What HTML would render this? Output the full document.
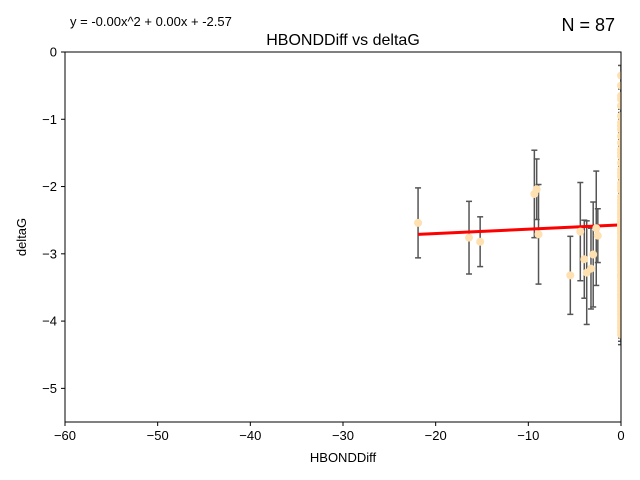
<!DOCTYPE html>
<html><head><meta charset="utf-8"><style>
body{margin:0;background:#fff;}
svg{display:block;font-family:"Liberation Sans","DejaVu Sans",sans-serif;}
</style></head><body>
<svg id="chart" width="640" height="480">
<text x="70" y="26" font-size="13">y = -0.00x^2 + 0.00x + -2.57</text>
<text x="615" y="31" font-size="18" text-anchor="end">N = 87</text>
<text x="343" y="45" font-size="16" text-anchor="middle">HBONDDiff vs deltaG</text>
<text x="343" y="462" font-size="13" text-anchor="middle">HBONDDiff</text>
<text x="26" y="237" font-size="13" text-anchor="middle" transform="rotate(-90 26 237)">deltaG</text>
<g id="plot"></g>
<rect x="65" y="52" width="556" height="370" fill="none" stroke="#000" stroke-width="1"/>
</svg>
<script>
const xs = [-21.9,-16.4,-15.2,-9.35,-9.1,-8.9,-5.47,-4.39,-3.96,-3.7,-3.24,-3.0,-2.67,-2.5,
0,0,0,0,0,0,0,0,0,0,0,0,0,0,0,0,0,0,0,0,0,0,0,0,0,0,0,0,0,0,0,0,0,0,0,0,0,0,0,0,0,0,0,0,0,0,0,0,0,0,0,0,0,0,0,0,0,0,0,0,0,0,0,0,0,0,0,0,0,0,0,0,0];
const ys = [-2.54,-2.76,-2.82,-2.11,-2.04,-2.71,-3.32,-2.67,-3.08,-3.28,-3.22,-3.01,-2.62,-2.73,
-0.35,-0.5,-0.65,-0.8,-0.95,-1.05,-1.15,-1.25,-1.35,-1.45,-1.55,-1.65,-1.75,-1.85,-1.95,-2.05,-2.15,-2.2,-2.3,-2.35,-2.4,-2.45,-2.5,-2.55,-2.6,-2.65,-2.7,-2.75,-2.8,-2.85,-2.9,-2.95,-3.0,-3.05,-3.1,-3.15,-3.2,-3.25,-3.3,-3.35,-3.4,-3.45,-3.5,-3.55,-3.6,-3.65,-3.7,-3.75,-3.8,-3.85,-3.9,-3.95,-4.0,-4.05,-4.1,-4.15,-4.2,-2.58,-2.62,-2.68,-2.52,-3.02,-1.5,-1.1,-0.7,-2.25,-3.32,-3.62,-2.0,-2.9,-3.1,-2.4,-1.8];
const errs = [0.52,0.54,0.37,0.65,0.45,0.74,0.58,0.73,0.58,0.77,0.6,0.78,0.85,0.4,
0.15,0.15,0.15,0.15,0.15,0.15,0.15,0.15,0.15,0.15,0.15,0.15,0.15,0.15,0.15,0.15,0.15,0.15,0.15,0.15,0.15,0.15,0.15,0.15,0.15,0.15,0.15,0.15,0.15,0.15,0.15,0.15,0.15,0.15,0.15,0.15,0.15,0.15,0.15,0.15,0.15,0.15,0.15,0.15,0.15,0.15,0.15,0.15,0.15,0.15,0.15,0.15,0.15,0.15,0.15,0.15,0.15,0.15,0.15,0.15,0.15,0.15,0.15,0.15,0.15,0.15,0.15,0.15,0.15,0.15,0.15,0.15,0.15];
const fitCoef = [0, 0.0064, -2.57];
const xTicks = [-60,-50,-40,-30,-20,-10,0];
const yTicks = [0,-1,-2,-3,-4,-5];
const xTickLabels = ['\u221260','\u221250','\u221240','\u221230','\u221220','\u221210','0'];
const yTickLabels = ['0','\u22121','\u22122','\u22123','\u22124','\u22125'];

const X0=65,X1=621,Y0=52,Y1=422;
const xScale = v => X0 + (v - (-60)) / 60 * (X1 - X0);
const yScale = v => Y0 + (0 - v) / 5.5 * (Y1 - Y0);
const NS='http://www.w3.org/2000/svg';
const svg=document.getElementById('chart');
const plot=document.getElementById('plot');
function mk(tag, attrs, parent){const e=document.createElementNS(NS,tag);for(const k in attrs)e.setAttribute(k,attrs[k]);(parent||plot).appendChild(e);return e;}

xTicks.forEach((t,i)=>{
  const g=mk('g',{},svg);
  
  
  mk('line',{x1:xScale(t),x2:xScale(t),y1:Y1,y2:Y1+4,stroke:'#000'},g);
  const tx=mk('text',{x:xScale(t),y:Y1+18,'font-size':13,'text-anchor':'middle'},g);
  tx.textContent=xTickLabels[i];
});
yTicks.forEach((t,i)=>{
  const g=mk('g',{},svg);
  
  
  mk('line',{x1:X0-4,x2:X0,y1:yScale(t),y2:yScale(t),stroke:'#000'},g);
  const tx=mk('text',{x:X0-8,y:yScale(t)+4.5,'font-size':13,'text-anchor':'end'},g);
  tx.textContent=yTickLabels[i];
});

const clip=mk('clipPath',{id:'clipP'},svg);
mk('rect',{x:X0,y:Y0,width:X1-X0,height:Y1-Y0},clip);
plot.setAttribute('clip-path','url(#clipP)');

for(let i=0;i<xs.length;i++){
  const px=xScale(xs[i]),t=yScale(ys[i]+errs[i]),b=yScale(ys[i]-errs[i]);
  const g=mk('g',{stroke:'#555','stroke-width':1.5});
  
  
  mk('line',{x1:px,x2:px,y1:t,y2:b},g);
  mk('line',{x1:px-3,x2:px+3,y1:t,y2:t},g);
  mk('line',{x1:px-3,x2:px+3,y1:b,y2:b},g);
}
let minX=Math.min(...xs),maxX=Math.max(...xs);
const f=x=>fitCoef[0]*x*x+fitCoef[1]*x+fitCoef[2];
const fit=mk('line',{x1:xScale(minX),y1:yScale(f(minX)),x2:xScale(maxX),y2:yScale(f(maxX)),stroke:'#f00','stroke-width':3});


for(let i=0;i<xs.length;i++){
  const c=mk('circle',{cx:xScale(xs[i]),cy:yScale(ys[i]),r:4,fill:'#ffe0b0'});
  
  
}
</script>
</body></html>
